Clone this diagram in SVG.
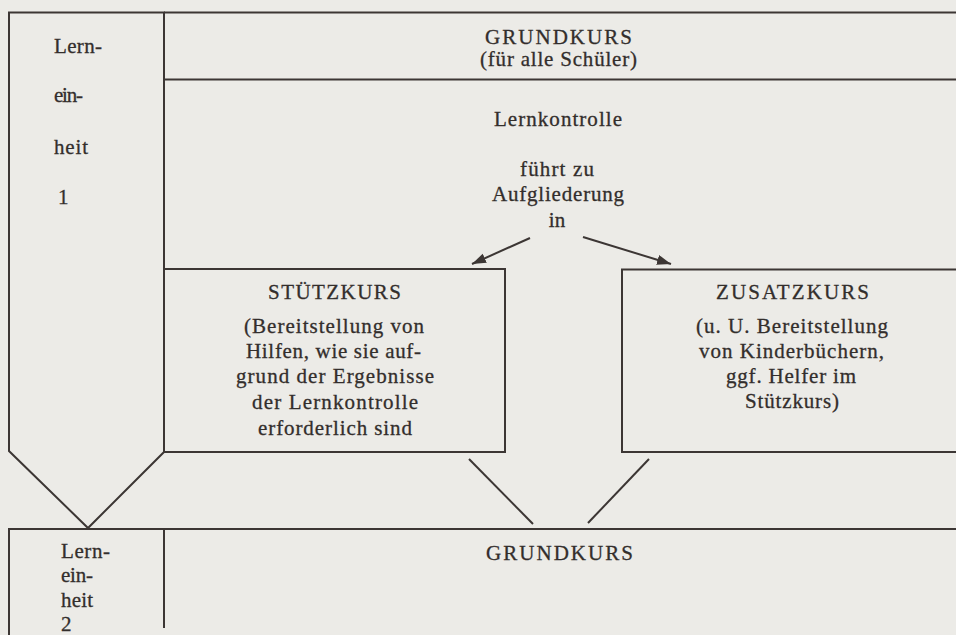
<svg xmlns="http://www.w3.org/2000/svg" width="956" height="635" viewBox="0 0 956 635">
<style>
.ln{fill:none;stroke:#3c3634;stroke-width:2;stroke-linejoin:miter}
.t{font-family:"Liberation Serif","Times New Roman",serif;font-size:21px;fill:#332e2c;stroke:#332e2c;stroke-width:0.3}
.c{text-anchor:middle}
</style>
<defs>
<marker id="ah" markerUnits="userSpaceOnUse" markerWidth="16" markerHeight="12" refX="14" refY="5" orient="auto">
<path d="M0,0 L14,5 L0,10 z" fill="#3c3634"/>
</marker>
</defs>
<rect x="0" y="0" width="956" height="635" fill="#ecebe7"/>
<g id="lerneinheit1">
<polygon class="ln" points="9,12.5 164,12.5 164,452 88,528 9,451"/>
<text class="t" x="54" y="53" textLength="48">Lern-</text>
<text class="t" x="54" y="102" textLength="29">ein-</text>
<text class="t" x="54" y="154" textLength="34">heit</text>
<text class="t" x="58" y="204">1</text>
</g>
<g id="grundkurs1">
<path class="ln" d="M164,12.5 H956 M164,79.5 H956"/>
<text class="t c" x="558.5" y="44" textLength="147">GRUNDKURS</text>
<text class="t c" x="558.5" y="66" textLength="157">(für alle Schüler)</text>
</g>
<g id="lernkontrolle">
<text class="t c" x="558" y="126" textLength="128">Lernkontrolle</text>
<text class="t c" x="557" y="176" textLength="74">führt zu</text>
<text class="t c" x="558" y="201" textLength="132">Aufgliederung</text>
<text class="t c" x="557" y="227">in</text>
</g>
<g id="stuetzkurs">
<path class="ln" d="M164,269 H505 V452 H164"/>
<text class="t c" x="334.5" y="299" textLength="133">STÜTZKURS</text>
<text class="t c" x="334" y="333" textLength="180">(Bereitstellung von</text>
<text class="t c" x="333.5" y="358" textLength="175">Hilfen, wie sie auf-</text>
<text class="t c" x="335" y="383" textLength="198">grund der Ergebnisse</text>
<text class="t c" x="335" y="409" textLength="166">der Lernkontrolle</text>
<text class="t c" x="335" y="435" textLength="154">erforderlich sind</text>
</g>
<g id="zusatzkurs">
<path class="ln" d="M956,269.5 H622 V452 H956"/>
<text class="t c" x="792.5" y="299" textLength="153">ZUSATZKURS</text>
<text class="t c" x="792" y="333" textLength="192">(u. U. Bereitstellung</text>
<text class="t c" x="791.5" y="358" textLength="185">von Kinderbüchern,</text>
<text class="t c" x="791" y="383" textLength="130">ggf. Helfer im</text>
<text class="t c" x="792" y="408" textLength="94">Stützkurs)</text>
</g>
<g id="lerneinheit2">
<path class="ln" d="M9,635 V529 H164 M164,529 V628"/>
<text class="t" x="61" y="558" textLength="49">Lern-</text>
<text class="t" x="61" y="582" textLength="32">ein-</text>
<text class="t" x="61" y="607" textLength="32">heit</text>
<text class="t" x="61" y="631">2</text>
</g>
<g id="grundkurs2">
<path class="ln" d="M164,529 H956"/>
<text class="t c" x="559.5" y="560" textLength="147">GRUNDKURS</text>
</g>
<g id="connectors">
<line class="ln" x1="530" y1="238" x2="472" y2="264" marker-end="url(#ah)"/>
<line class="ln" x1="583" y1="237" x2="671" y2="264" marker-end="url(#ah)"/>
<line class="ln" x1="469" y1="459" x2="533" y2="524"/>
<line class="ln" x1="649" y1="459" x2="588" y2="523"/>
</g>
</svg>
